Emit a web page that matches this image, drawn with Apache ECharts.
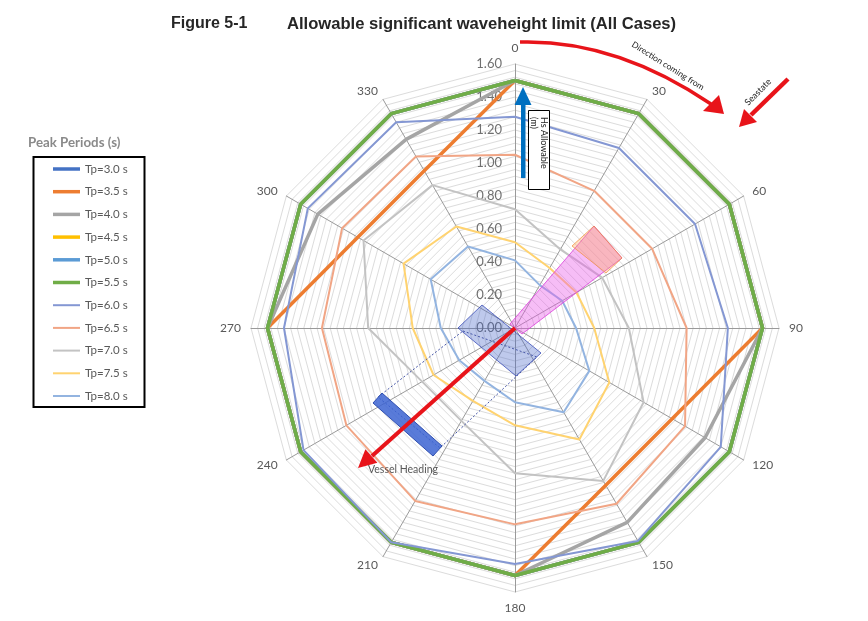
<!DOCTYPE html>
<html><head><meta charset="utf-8">
<script src="https://cdn.jsdelivr.net/npm/echarts@6/dist/echarts.min.js"></script>
<style>html,body{margin:0;padding:0;background:#fff}#c{width:868px;height:621px}</style>
</head><body><div id="c"></div>
<script>
// Wave directions (deg, "coming from"), clockwise from 0 at top
const directions = [0, 30, 60, 90, 120, 150, 180, 210, 240, 270, 300, 330];
const seriesNames = ['Tp=3.0 s','Tp=3.5 s','Tp=4.0 s','Tp=4.5 s','Tp=5.0 s','Tp=5.5 s',
                     'Tp=6.0 s','Tp=6.5 s','Tp=7.0 s','Tp=7.5 s','Tp=8.0 s'];
// Allowable Hs (m) per direction, in the order of `directions`
const tp30 = [1.50,1.50,1.50,1.50,1.50,1.50,1.50,1.50,1.50,1.50,1.50,1.50];
const tp35 = [1.50,1.50,1.50,1.50,1.10,1.10,1.50,1.50,1.50,1.50,1.10,1.10];
const tp40 = [1.50,1.50,1.50,1.50,1.33,1.36,1.50,1.50,1.50,1.50,1.38,1.32];
const tp45 = [1.50,1.50,1.50,1.50,1.50,1.50,1.50,1.50,1.50,1.50,1.50,1.50];
const tp50 = [1.50,1.50,1.50,1.50,1.50,1.50,1.50,1.50,1.50,1.50,1.50,1.50];
const tp55 = [1.50,1.50,1.50,1.50,1.50,1.50,1.50,1.50,1.50,1.50,1.50,1.50];
const tp60 = [1.28,1.26,1.26,1.29,1.44,1.49,1.43,1.50,1.48,1.40,1.45,1.44];
const tp65 = [1.05,0.96,0.96,1.04,1.19,1.23,1.19,1.21,1.18,1.17,1.21,1.20];
const tp70 = [0.72,0.55,0.61,0.69,0.90,1.07,0.88,0.65,0.65,0.89,1.06,1.00];
const tp75 = [0.52,0.42,0.43,0.48,0.66,0.78,0.59,0.51,0.57,0.62,0.78,0.71];
const tp80 = [0.41,0.30,0.33,0.37,0.52,0.59,0.45,0.37,0.39,0.45,0.59,0.57];
const allValues = [tp30,tp35,tp40,tp45,tp50,tp55,tp60,tp65,tp70,tp75,tp80];

const colors = ['#4472c4','#ed7d31','#a5a5a5','#ffc000','#5b9bd5','#70ad47',
                '#8497d3','#f1a585','#c3c3c3','#ffd370','#93b4e0'];
const widths = [3.5,3.5,3.5,3.5,3.5,3.5,2,2,2,2,2];

// ECharts radar runs counter-clockwise, so list indicators in reverse to read clockwise
const order = directions.map((d, i) => (12 - i) % 12);
const reorder = arr => order.map(k => arr[k]);

const indicator = order.map((k, i) => {
  const o = { name: String(directions[k]), min: 0, max: 1.6 };
  if (i === 0) {
    o.axisLabel = {
      show: true, color: '#707070', fontSize: 13, margin: 13,
      fontFamily: 'Lato',
      formatter: v => {
        const q = v / 0.2;
        return Math.abs(q - Math.round(q)) < 1e-6 ? v.toFixed(2) : '';
      }
    };
  }
  return o;
});

const chart = echarts.init(document.getElementById('c'), null, { renderer: 'canvas' });

const legendText = { color: '#595959', fontSize: 11.5, lineHeight: 14, fontFamily: 'Lato' };
const mkLegendData = idx => idx.map(i => ({ name: seriesNames[i], itemStyle: { color: colors[i], borderWidth: 0 } }));

const red = '#e8141a';
const option = {
  animation: false,
  backgroundColor: '#fff',
  radar: {
    center: [515, 328],
    radius: 264,
    startAngle: 90,
    shape: 'polygon',
    splitNumber: 40,
    indicator: indicator,
    nameGap: 10,
    axisName: { color: '#595959', fontSize: 12, fontFamily: 'Lato' },
    axisLine: { lineStyle: { color: '#9a9a9a', width: 1 } },
    splitLine: { lineStyle: { color: '#dcdcdc', width: 1 } },
    splitArea: { show: false },
    axisTick: { show: false },
    axisLabel: { show: false }
  },
  legend: [
    { data: mkLegendData([0,1,2,3,4,5]), orient: 'vertical', left: 53, top: 162,
      itemWidth: 27, itemHeight: 3.5, icon: 'rect', itemGap: 8.7, padding: 0,
      textStyle: legendText, selectedMode: false, itemStyle: { borderWidth: 0 } },
    { data: mkLegendData([6,7,8,9,10]), orient: 'vertical', left: 53, top: 298.2,
      itemWidth: 27, itemHeight: 2, icon: 'rect', itemGap: 8.7, padding: 0,
      textStyle: legendText, selectedMode: false, itemStyle: { borderWidth: 0 } }
  ],
  series: seriesNames.map((n, k) => ({
    type: 'radar',
    name: n,
    symbol: 'none',
    silent: true,
    lineStyle: { color: colors[k], width: widths[k] },
    itemStyle: { color: colors[k] },
    data: [{ name: n, value: reorder(allValues[k]) }]
  })),
  graphic: [
    // title
    { type: 'text', left: 171, top: 16, z: 100,
      style: { text: 'Figure 5-1', fill: '#262626', font: 'bold 16px "Liberation Sans", Arial' } },
    { type: 'text', left: 287, top: 16, z: 100,
      style: { text: 'Allowable significant waveheight limit (All Cases)', fill: '#262626', font: 'bold 16.6px "Liberation Sans", Arial' } },
    // legend title & box
    { type: 'text', left: 28, top: 136, z: 100,
      style: { text: 'Peak Periods (s)', fill: '#8a8a8a', font: 'bold 13.3px Lato' } },
    { type: 'rect', z: 100, shape: { x: 33.5, y: 157, width: 111, height: 250 },
      style: { fill: 'none', stroke: '#000', lineWidth: 2 } },

    // pink vessel (upper right)
    { type: 'polygon', z: 90, shape: { points: [[510,324],[522,334],[622,258],[594,226]] },
      style: { fill: 'rgba(232,90,232,0.40)', stroke: 'rgba(220,70,220,0.85)', lineWidth: 1 } },
    { type: 'polygon', z: 91, shape: { points: [[572,246],[606,273],[622,258],[594,226]] },
      style: { fill: 'rgba(255,170,90,0.35)', stroke: 'rgba(240,140,60,0.7)', lineWidth: 1 } },

    // blue vessel (lower left)
    { type: 'polygon', z: 90, shape: { points: [[482,305],[541,353],[516,376],[458,328]] },
      style: { fill: 'rgba(70,100,200,0.35)', stroke: 'rgba(50,70,180,0.75)', lineWidth: 1 } },
    { type: 'polygon', z: 90, shape: { points: [[463,331],[537,357],[440,448],[378,397]] },
      style: { fill: 'none', stroke: '#4656a8', lineWidth: 1, lineDash: [2, 2] } },
    { type: 'polygon', z: 90, shape: { points: [[382,393],[442,446],[433,456],[373,403]] },
      style: { fill: 'rgba(60,100,210,0.85)', stroke: '#2f4fb0', lineWidth: 1 } },

    // vessel heading arrow
    { type: 'line', z: 110, shape: { x1: 515, y1: 328, x2: 372, y2: 456 },
      style: { stroke: red, lineWidth: 4 } },
    { type: 'polygon', z: 110, shape: { points: [[358,468],[377.4,462.7],[365.4,449.3]] },
      style: { fill: red } },
    { type: 'text', left: 368, top: 464, z: 110,
      style: { text: 'Vessel Heading', fill: '#595959', font: '10.5px Lato' } },

    // "direction coming from" curved arrow
    { type: 'bezierCurve', z: 110,
      shape: { x1: 520, y1: 42, cpx1: 590, cpy1: 40, cpx2: 655, cpy2: 66, x2: 711, y2: 104 },
      style: { stroke: red, lineWidth: 3.5, fill: 'none' } },
    { type: 'polygon', z: 110, shape: { points: [[724,114],[703,111],[719,95]] },
      style: { fill: red } },
    { type: 'text', x: 668, y: 66, rotation: -0.56, z: 110,
      style: { text: 'Direction coming from', fill: '#222', font: '8.5px Lato', align: 'center', verticalAlign: 'middle' } },

    // seastate arrow
    { type: 'line', z: 110, shape: { x1: 788, y1: 79, x2: 751, y2: 115 },
      style: { stroke: red, lineWidth: 4.5 } },
    { type: 'polygon', z: 110, shape: { points: [[739,127],[757,122],[744,109]] },
      style: { fill: red } },
    { type: 'text', x: 758, y: 92, rotation: 0.79, z: 110,
      style: { text: 'Seastate', fill: '#222', font: '9px Lato', align: 'center', verticalAlign: 'middle' } },

    // Hs allowable arrow and box
    { type: 'rect', z: 110, shape: { x: 521, y: 102, width: 4.5, height: 76 },
      style: { fill: '#0070c0' } },
    { type: 'polygon', z: 110, shape: { points: [[523,87],[531.5,105],[514.5,105]] },
      style: { fill: '#0070c0' } },
    { type: 'rect', z: 110, shape: { x: 528.5, y: 110.5, width: 21, height: 79 },
      style: { fill: '#fff', stroke: '#000', lineWidth: 1 } },
    { type: 'text', x: 543.5, y: 117, rotation: -Math.PI / 2, z: 111,
      style: { text: 'Hs Allowable', fill: '#222', font: '9px Lato', align: 'left', verticalAlign: 'middle' } },
    { type: 'text', x: 533.5, y: 117, rotation: -Math.PI / 2, z: 111,
      style: { text: '(m)', fill: '#222', font: '9px Lato', align: 'left', verticalAlign: 'middle' } }
  ]
};
chart.setOption(option);
</script>
</body></html>
